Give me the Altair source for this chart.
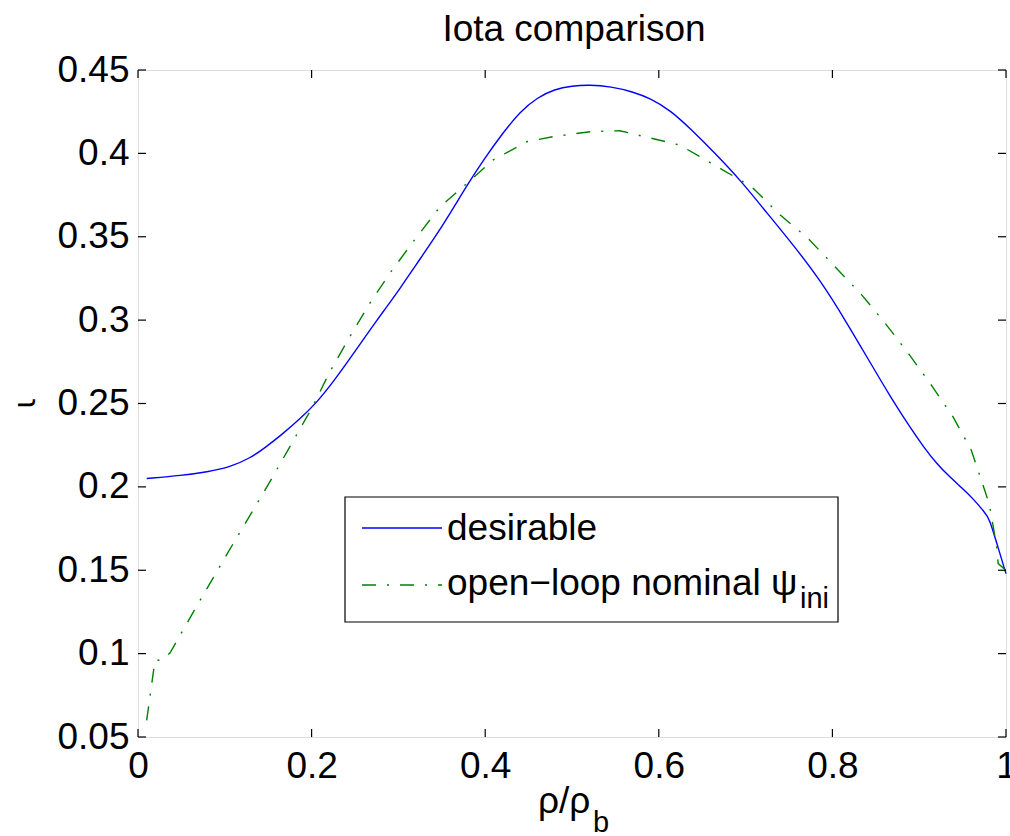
import altair as alt
import pandas as pd

# ---- data ----
title_text = "Iota comparison"
legend_labels = ["desirable", "open\u2212loop nominal \u03c8", "ini"]
xlabel_main, xlabel_sub = "\u03c1/\u03c1", "b"
ylabel = "\u03b9"

x_desirable = [0.01, 0.05, 0.08, 0.106, 0.13, 0.145, 0.165, 0.187, 0.205, 0.225, 0.245,
               0.263, 0.283, 0.302, 0.32, 0.34, 0.359, 0.381, 0.40, 0.42, 0.44, 0.46,
               0.48, 0.50, 0.52, 0.545, 0.57, 0.59, 0.613, 0.638, 0.663, 0.694, 0.725,
               0.755, 0.786, 0.816, 0.843, 0.868, 0.889, 0.905, 0.92, 0.935, 0.95,
               0.962, 0.975, 0.981, 0.99, 1.0]
y_desirable = [0.205, 0.2068, 0.209, 0.2118, 0.2175, 0.223, 0.231, 0.241, 0.25, 0.263, 0.2775,
               0.291, 0.3055, 0.319, 0.333, 0.348, 0.3635, 0.3825, 0.3975, 0.412, 0.425, 0.4335,
               0.4385, 0.4405, 0.4412, 0.44, 0.437, 0.433, 0.426, 0.414, 0.401, 0.384, 0.364,
               0.345, 0.324, 0.299, 0.275, 0.253, 0.236, 0.224, 0.214, 0.206, 0.199,
               0.193, 0.185, 0.181, 0.165, 0.148]

x_openloop = [0.01, 0.0196, 0.0276, 0.037, 0.066, 0.104, 0.149, 0.2, 0.221, 0.244, 0.267,
              0.29, 0.317, 0.348, 0.379, 0.409, 0.448, 0.478, 0.521, 0.555, 0.6, 0.624,
              0.674, 0.707, 0.74, 0.772, 0.803, 0.834, 0.861, 0.889, 0.914, 0.939,
              0.96, 0.978, 0.982, 0.989, 0.991, 1.0]
y_openloop = [0.06, 0.096, 0.096, 0.1005, 0.127, 0.161, 0.2004, 0.247, 0.269, 0.29, 0.31,
              0.328, 0.347, 0.368, 0.382, 0.396, 0.407, 0.41, 0.413, 0.4136, 0.408, 0.405,
              0.39, 0.38, 0.363, 0.349, 0.332, 0.315, 0.298, 0.279, 0.261, 0.242,
              0.222, 0.194, 0.186, 0.165, 0.154, 0.15]

x_ticks = [0, 0.2, 0.4, 0.6, 0.8, 1]
y_ticks = [0.05, 0.1, 0.15, 0.2, 0.25, 0.3, 0.35, 0.4, 0.45]

W, H = 868, 667
FONT = "Liberation Sans"
FS = 37
BLUE = "#0000ff"
GREEN = "#008000"

df_d = pd.DataFrame({"x": x_desirable, "y": y_desirable})
df_o = pd.DataFrame({"x": x_openloop, "y": y_openloop})
df_xt = pd.DataFrame({"t": x_ticks})
df_yt = pd.DataFrame({"t": y_ticks})
one = pd.DataFrame({"a": [0]})

xs = alt.Scale(domain=[0, 1], nice=False, zero=False)
ys = alt.Scale(domain=[0.05, 0.45], nice=False, zero=False)

xaxis = alt.Axis(values=x_ticks, title=None, ticks=False, tickSize=0, domain=False, grid=False,
                 format=".2~f",
                 labelFont=FONT, labelFontSize=FS, labelPadding=11, labelColor="black",
                 labelOverlap=False, labelFlush=False)
yaxis = alt.Axis(values=y_ticks, title=ylabel, ticks=False, tickSize=0, domain=False, grid=False,
                 format=".2~f",
                 labelFont=FONT, labelFontSize=FS, labelPadding=9, labelColor="black",
                 labelOverlap=False, labelFlush=False,
                 titleFont="DejaVu Sans", titleFontSize=31, titleFontWeight="normal",
                 titleColor="black",
                 titleAngle=270, titleX=-113, titleY=333, titleAlign="center",
                 titleBaseline="middle")

line_d = alt.Chart(df_d).mark_line(color=BLUE, strokeWidth=1.4, interpolate="basis").encode(
    x=alt.X("x:Q", scale=xs, axis=xaxis),
    y=alt.Y("y:Q", scale=ys, axis=yaxis),
)
line_o = alt.Chart(df_o).mark_line(color=GREEN, strokeWidth=1.4, strokeDash=[14, 11, 2, 11]).encode(
    x=alt.X("x:Q", scale=xs),
    y=alt.Y("y:Q", scale=ys),
)

TL = 8
tick_b = alt.Chart(df_xt).mark_rule(color="black", strokeWidth=1.2).encode(
    x=alt.X("t:Q", scale=xs), y=alt.value(H), y2=alt.value(H - TL))
tick_t = alt.Chart(df_xt).mark_rule(color="black", strokeWidth=1.2).encode(
    x=alt.X("t:Q", scale=xs), y=alt.value(0), y2=alt.value(TL))
tick_l = alt.Chart(df_yt).mark_rule(color="black", strokeWidth=1.2).encode(
    y=alt.Y("t:Q", scale=ys), x=alt.value(0), x2=alt.value(TL))
tick_r = alt.Chart(df_yt).mark_rule(color="black", strokeWidth=1.2).encode(
    y=alt.Y("t:Q", scale=ys), x=alt.value(W), x2=alt.value(W - TL))

# legend box
leg_box = alt.Chart(one).mark_rect(fill="white", stroke="black", strokeWidth=1.2).encode(
    x=alt.value(207), x2=alt.value(700), y=alt.value(427), y2=alt.value(552))
leg_l1 = alt.Chart(one).mark_rule(color=BLUE, strokeWidth=1.4).encode(
    x=alt.value(224), x2=alt.value(304), y=alt.value(458))
leg_l2 = alt.Chart(one).mark_rule(color=GREEN, strokeWidth=1.4, strokeDash=[14, 11, 2, 11]).encode(
    x=alt.value(224), x2=alt.value(304), y=alt.value(515))


def txt(s, x, y, size=FS, align="left", baseline="alphabetic"):
    return alt.Chart(pd.DataFrame({"s": [s]})).mark_text(
        font=FONT, fontSize=size, align=align, baseline=baseline, color="black"
    ).encode(text="s:N", x=alt.value(x), y=alt.value(y))


leg_t1 = txt(legend_labels[0], 309, 470)
leg_t2 = txt(legend_labels[1], 309, 525)
leg_t3 = txt(legend_labels[2], 662, 538, size=29)

title = txt(title_text, 436, -29, align="center")
xl1 = txt(xlabel_main, 400, 743)
xl2 = txt(xlabel_sub, 455, 762, size=29)

chart = alt.layer(
    line_d, line_o, tick_b, tick_t, tick_l, tick_r,
    leg_box, leg_l1, leg_l2, leg_t1, leg_t2, leg_t3,
    title, xl1, xl2,
).properties(
    width=W, height=H,
    padding={"left": 138, "top": 70, "right": 4, "bottom": 99},
    autosize=alt.AutoSizeParams(type="none"),
).configure_view(stroke="black", strokeWidth=1.5).configure(background="white")

chart.save("out.html", embed_options={"renderer": "svg", "actions": False})
